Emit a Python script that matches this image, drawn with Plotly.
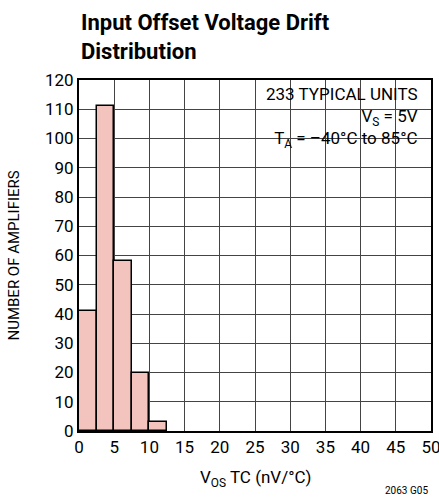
import plotly.graph_objects as go

bin_left = [0, 2.5, 5, 7.5, 10]
bin_width = [2.5, 2.5, 2.5, 2.5, 2.5]
counts = [41, 111, 58, 20, 3]

x_ticks = [0, 5, 10, 15, 20, 25, 30, 35, 40, 45, 50]
y_ticks = [0, 10, 20, 30, 40, 50, 60, 70, 80, 90, 100, 110, 120]

FONT = "Roboto, Liberation Sans, sans-serif"

fig = go.Figure()
fig.add_trace(go.Bar(
    x=[l + w / 2 for l, w in zip(bin_left, bin_width)],
    y=counts,
    width=bin_width,
    marker=dict(color="#F2C4BD", line=dict(color="black", width=1.5)),
    showlegend=False,
))

fig.update_layout(
    width=439, height=502,
    margin=dict(l=79, r=8, t=80, b=71),
    paper_bgcolor="white", plot_bgcolor="white",
    font=dict(family=FONT, size=17, color="black"),
    bargap=0,
    xaxis=dict(range=[0, 50], tickvals=x_ticks, ticks="", showgrid=True, automargin=False,
               gridcolor="#444444", gridwidth=1, zeroline=False, ticklabeloverflow="allow",
               showline=True, linecolor="black", linewidth=2, mirror=True,
               tickfont=dict(size=17)),
    yaxis=dict(range=[0, 120], tickvals=y_ticks, ticks="", showgrid=True, automargin=False,
               gridcolor="#444444", gridwidth=1, zeroline=False, ticklabeloverflow="allow",
               showline=True, linecolor="black", linewidth=2, mirror=True,
               tickfont=dict(size=17)),
)

fig.add_shape(type="rect", xref="paper", yref="paper", x0=0.52, x1=1.0, y0=0.795, y1=1.0,
              fillcolor="white", line=dict(width=0), layer="between")

fig.add_annotation(xref="paper", yref="paper", x=0.969, y=1.0, yshift=-2, xanchor="right", yanchor="top",
                   align="right", showarrow=False, font=dict(size=17),
                   text="233 TYPICAL UNITS<br>V<sub>S</sub> = 5V<br>T<sub>A</sub> = –40°C to 85°C")

fig.add_annotation(xref="paper", yref="paper", x=0.0, y=1.0, yshift=72, xanchor="left", yanchor="top",
                   align="left", showarrow=False,
                   font=dict(size=22, family=FONT),
                   text="<b>Input Offset Voltage Drift<br>Distribution</b>")

fig.add_annotation(xref="paper", yref="paper", x=0.0, y=0.5, xshift=-66, xanchor="center", yanchor="middle",
                   textangle=-90, showarrow=False, font=dict(size=15), text="NUMBER OF AMPLIFIERS")

fig.add_annotation(xref="paper", yref="paper", x=0.5, y=0.0, yshift=-47, xanchor="center", yanchor="middle",
                   showarrow=False, font=dict(size=17), text="V<sub>OS</sub> TC (nV/°C)")

fig.add_annotation(xref="paper", yref="paper", x=0.997, y=0.0, yshift=-59, xanchor="right", yanchor="middle",
                   showarrow=False, font=dict(size=10), text="2063 G05")

fig.write_html("out.html", config={"displayModeBar": False},
               post_script="document.body.style.margin='0';")
